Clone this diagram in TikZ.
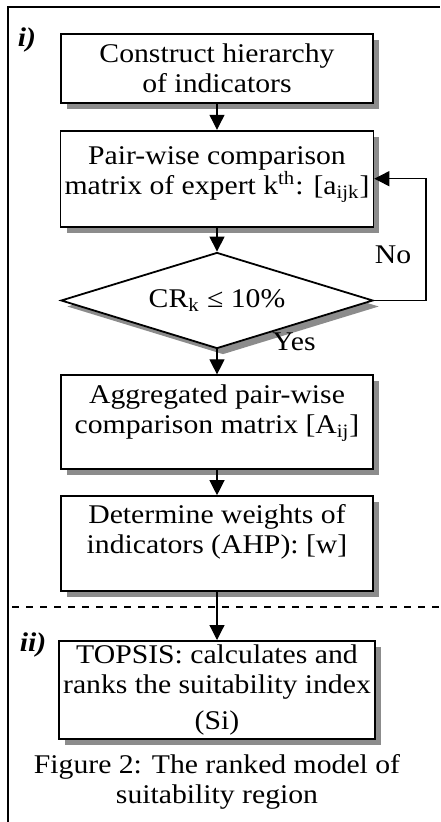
\documentclass[tikz,border=0pt]{standalone}
\usepackage{fontspec}
\setmainfont{Liberation Serif}[FakeStretch=1.1]
\usetikzlibrary{positioning,arrows.meta,shapes.geometric,shadows}

% extra depth on the last line lifts the text inside a tall box
\newcommand{\liftpad}[1]{\rule[-#1]{0pt}{#1}}

\begin{document}
\begin{tikzpicture}[
  node distance=12.5pt,
  font=\fontsize{13.5pt}{15pt}\selectfont,
  stepbox/.style={draw, line width=0.9pt, fill=white, align=center, minimum width=156pt, inner sep=2pt,
    drop shadow={shadow xshift=3pt, shadow yshift=-3pt, fill=black!45, opacity=1}},
  check/.style={diamond, draw, line width=0.9pt, fill=white, aspect=3.25, inner sep=0pt,
    minimum width=156pt, minimum height=48pt,
    drop shadow={shadow xshift=3pt, shadow yshift=-3pt, fill=black!45, opacity=1}},
  arrow/.style={-{Triangle[length=7.5pt, width=7.5pt]}, line width=0.6pt},
  part/.style={font=\fontsize{13.5pt}{15pt}\selectfont\bfseries\itshape}
]
\useasboundingbox (0,0) rectangle (220pt,-411pt);
% frame and separator
\draw[line width=0.8pt] (4pt,-411pt) -- (4pt,-3.5pt) -- (220pt,-3.5pt);
\draw[line width=0.6pt, dash pattern=on 3.5pt off 3.5pt] (6pt,-303.5pt) -- (220pt,-303.5pt);

\node[stepbox, minimum height=34.5pt, anchor=north] (hier) at (108.5pt,-16.5pt) {Construct hierarchy\\of indicators};
\node[stepbox, minimum height=48pt, below=13pt of hier] (pw) {Pair-wise comparison\\matrix of  expert k\textsuperscript{th}: [a\textsubscript{ijk}]\liftpad{8pt}};
\node[check, below=12pt of pw] (chk) {CR\textsubscript{k} ≤ 10\%};
\node[stepbox, minimum height=47pt, below=of chk] (agg) {Aggregated pair-wise\\comparison matrix [A\textsubscript{ij}]\liftpad{13pt}};
\node[stepbox, minimum height=47.5pt, below=of agg] (wts) {Determine weights of\\indicators (AHP): [w]\liftpad{15pt}};
\node[stepbox, minimum height=48pt, below=24pt of wts] (tops) {TOPSIS: calculates and\\ranks the suitability index\\[3pt](Si)};

\node[part] (pi) at (13.5pt,-20pt) {i)};
\node[part] (pii) at (16.5pt,-322.5pt) {ii)};
\node (no) at (196.5pt,-127.5pt) {No};
\node (yes) at (147pt,-171pt) {Yes};
\node[align=center] (cap) at (108.5pt,-391pt) {Figure 2: The ranked model of\\suitability region};

\draw[arrow] (hier) -- (pw);
\draw[arrow] (pw) -- (chk);
\draw[arrow] (chk) -- (agg);
\draw[arrow] (agg) -- (wts);
\draw[arrow] (wts) -- (tops);
\draw[arrow] (chk.east) -- ++(26pt,0) |- (pw.east);
\end{tikzpicture}
\end{document}
